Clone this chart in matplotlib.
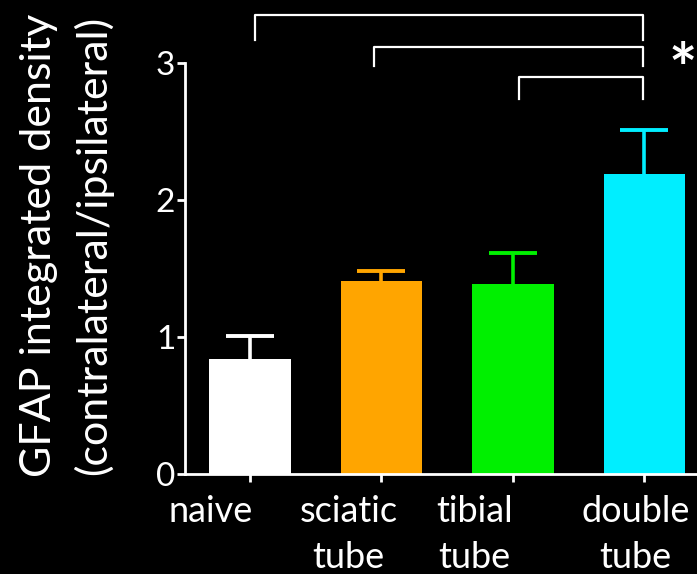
import numpy as np
import matplotlib.pyplot as plt
from matplotlib import transforms

groups = ['naive', 'sciatic\ntube', 'tibial\ntube', 'double\ntube']
means = [0.84, 1.41, 1.39, 2.19]
sems = [0.17, 0.07, 0.22, 0.32]
colors = ['#ffffff', '#ffa500', '#00f000', '#00eeff']
# label centres (data x) - labels in the original are not centred on ticks
label_x = [-0.30, 0.75, 1.71, 2.93]

# significance brackets: (x_left, x_right, y_top, y_bottom)
brackets = [(0.04, 2.99, 3.35, 3.17),
            (0.94, 2.99, 3.12, 2.98),
            (2.05, 2.99, 2.90, 2.74)]

plt.rcParams['font.family'] = ['Lato', 'DejaVu Sans']

fig = plt.figure(figsize=(6.97, 5.74), dpi=100, facecolor='black')
ax = fig.add_axes([185/697, 1-474/574, 1-185/697, (474-63)/574])
ax.set_facecolor('black')

x = np.arange(len(means))
ax.bar(x, means, width=0.62, color=colors)
for xi, m, s, c in zip(x, means, sems, colors):
    _, caps, _ = ax.errorbar(xi, m, yerr=[[0], [s]], color=c, lw=2.6,
                             capsize=17, capthick=2.8)
    caps[0].set_visible(False)

ax.set_ylim(0, 3)
ax.set_xlim(-0.494, 3.40)
ax.set_yticks([0, 1, 2, 3])
ax.set_xticks(x)
ax.set_xticklabels([])

for sp in ['top', 'right']:
    ax.spines[sp].set_visible(False)
for sp in ['left', 'bottom']:
    ax.spines[sp].set_color('white')
    ax.spines[sp].set_linewidth(2)
ax.tick_params(colors='white', width=2, length=6, labelsize=24, pad=1)

trans = transforms.blended_transform_factory(ax.transData, fig.transFigure)
for lx, g in zip(label_x, groups):
    ax.text(lx, 1-495/574, g, transform=trans, ha='center', va='top',
            color='white', fontsize=26, linespacing=1.5)

ax.set_ylabel('GFAP integrated density\n(contralateral/ipsilateral)',
              color='white', fontsize=31, linespacing=1.45)
ax.yaxis.set_label_coords(-0.14, 0.557)

for xl, xr, yt, yb in brackets:
    ax.plot([xl, xl, xr, xr], [yb, yt, yt, yb], color='white', lw=1.6,
            clip_on=False, solid_joinstyle='round')
ax.text(3.29, 2.93, '*', color='white', fontsize=48, fontweight='bold',
        ha='center', va='center')

fig.savefig('out.png', dpi=100, facecolor='black')
